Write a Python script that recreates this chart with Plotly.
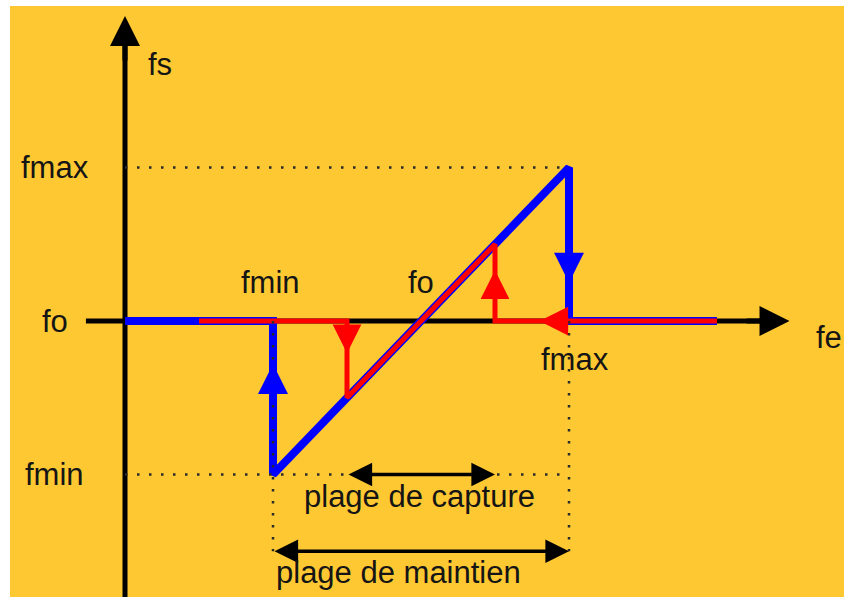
import plotly.graph_objects as go

# ---- data (frequency units: fo = 2, fmin = 1, fmax = 3) ----
fo = 2.0
fmin = 1.0
fmax = 3.0
cap_lo = 1.5
cap_hi = 2.5
fe_end = 4.0

# hold (maintien) characteristic: blue
blue_fe = [0, fmin, fmin, fmax, fmax, fe_end]
blue_fs = [fo, fo, fmin, fmax, fo, fo]
# capture characteristic: red
red_fe = [0.5, cap_lo, cap_lo, cap_hi, cap_hi, fe_end]
red_fs = [fo, fo, cap_lo, cap_hi, fo, fo]

BG = "#FEC832"
BLUE = "#0000FF"
RED = "#FF0000"
INK = "#151515"
FONT = "Liberation Sans, Arial, sans-serif"

X_RANGE = [-0.7770, 4.8581]
Y_RANGE = [0.2020, 4.0521]
x_axis_start, x_axis_tip = -0.264, 4.49
y_axis_tip = 3.987
maint_level = 0.5

fig = go.Figure()

def seg(xs, ys, color, width, dash=None):
    fig.add_trace(go.Scatter(x=xs, y=ys, mode="lines", hoverinfo="skip",
                             line=dict(color=color, width=width, dash=dash),
                             showlegend=False))

# axes (drawn first, under the curves)
seg([x_axis_start, x_axis_tip - 0.1], [fo, fo], "black", 5)
seg([0, 0], [Y_RANGE[0], y_axis_tip - 0.1], "black", 5)

# curves
seg(blue_fe, blue_fs, BLUE, 8)
seg(red_fe, red_fs, RED, 5)

# dotted guides
DOT = "2.5px,9.5px"
seg([0, fmax], [fmax, fmax], "#2a2a2a", 2.5, DOT)
seg([0, fmax], [fmin, fmin], "#2a2a2a", 2.5, DOT)
seg([fmin, fmin], [fo, maint_level], "#2a2a2a", 2.5, DOT)
seg([fmax, fmax], [fo, maint_level], "#2a2a2a", 2.5, DOT)

ann = []

def arrow(tip, tail, color, width, size, both=False):
    d = dict(x=tip[0], y=tip[1], ax=tail[0], ay=tail[1], xref="x", yref="y",
             axref="x", ayref="y", text="", showarrow=True, arrowhead=2,
             arrowcolor=color, arrowwidth=width, arrowsize=size, standoff=0)
    if both:
        d.update(arrowside="end+start", startarrowhead=2, startarrowsize=size,
                 startstandoff=0)
    ann.append(d)

# axis arrowheads
arrow((x_axis_tip, fo), (x_axis_tip - 0.3, fo), "black", 5, 1.2)
arrow((0, y_axis_tip), (0, y_axis_tip - 0.3), "black", 5, 1.2)

# direction arrows on the curves
arrow((fmin, 1.72), (fmin, 1.5), BLUE, 8, 0.75)
arrow((fmax, 2.25), (fmax, 2.5), BLUE, 8, 0.75)
arrow((cap_lo, 1.79), (cap_lo, 1.95), RED, 5, 1.15)
arrow((cap_hi, 2.33), (cap_hi, 2.15), RED, 5, 1.15)
arrow((2.80, fo), (3.0, fo), RED, 5, 1.15)

# range arrows
arrow((cap_hi, fmin), (cap_lo, fmin), "black", 3.5, 1.35, both=True)
arrow((fmax, maint_level), (fmin, maint_level), "black", 3.5, 1.35, both=True)

def label(text, x, y, xanchor="center"):
    ann.append(dict(x=x, y=y, xref="x", yref="y", text=text, showarrow=False,
                    xanchor=xanchor, yanchor="middle",
                    font=dict(family=FONT, size=31, color=INK)))

label("fs", 0.236, 3.67)
label("fmax", -0.473, fmax)
label("fo", -0.473, fo)
label("fmin", -0.473, fmin)
label("fmin", 0.986, 2.25)
label("fo", 2.0, 2.25)
label("fmax", 3.04, 1.746)
label("fe", 4.76, 1.89)
label("plage de capture", 1.99, 0.86)
label("plage de maintien", 1.85, 0.36)

fig.update_layout(
    width=844, height=597,
    margin=dict(l=10, t=6, r=0, b=0),
    paper_bgcolor="white", plot_bgcolor=BG,
    xaxis=dict(range=X_RANGE, visible=False, fixedrange=True),
    yaxis=dict(range=Y_RANGE, visible=False, fixedrange=True),
    annotations=ann,
    showlegend=False,
)

fig.write_html("out.html",
               config={"displayModeBar": False},
               post_script="document.body.style.margin='0';document.body.style.overflow='hidden';")
